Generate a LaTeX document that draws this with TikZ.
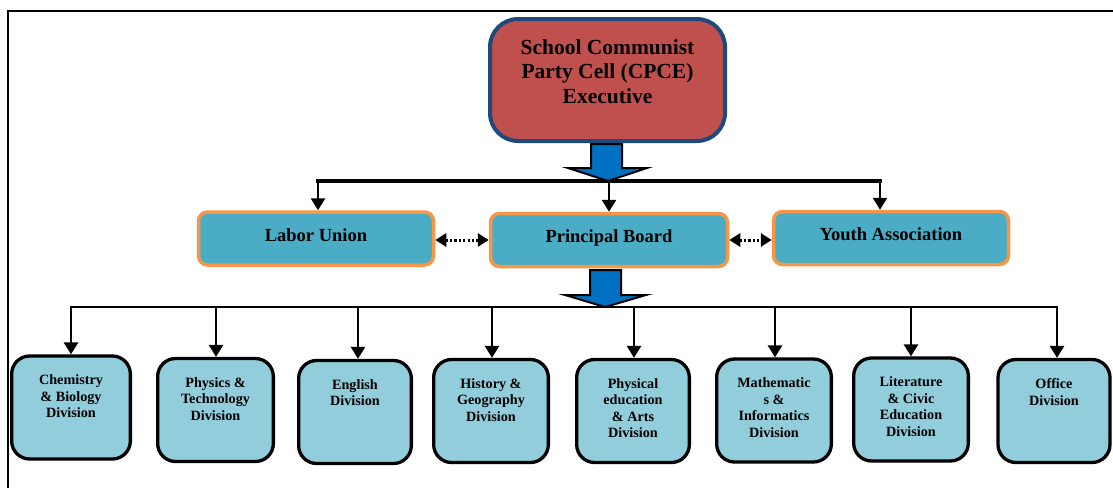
\documentclass[tikz,border=0pt]{standalone}
\usepackage{fontspec}
\setmainfont{Liberation Serif}
\usetikzlibrary{arrows.meta}
\definecolor{execred}{HTML}{C0504D}
\definecolor{execblue}{HTML}{1F497D}
\definecolor{midfill}{HTML}{4BACC6}
\definecolor{midedge}{HTML}{F79646}
\definecolor{divfill}{HTML}{92CDDC}
\definecolor{blockblue}{HTML}{0070C0}
% label of a division box: text set from the top of the box
\newcommand\divlabel[1]{\parbox[c][103pt][t]{112pt}{\centering\vspace*{19pt}#1}}
\begin{document}
\begin{tikzpicture}[x=1pt,y=-1pt,
  execbox/.style={draw=execblue, fill=execred, line width=4pt, rounded corners=28pt,
    inner sep=0pt, minimum width=235pt, minimum height=122pt},
  unitbox/.style={draw=midedge, fill=midfill, line width=3.5pt, rounded corners=9pt,
    inner sep=0pt, minimum width=235pt, minimum height=53pt,
    font=\fontsize{18.5}{22}\selectfont\bfseries, text height=12.6pt, text depth=7pt},
  divbox/.style={draw=black, fill=divfill, line width=3.3pt, rounded corners=18pt,
    inner sep=0pt, minimum height=103pt, font=\fontsize{14.2}{16.5}\selectfont\bfseries},
  link/.style={line width=2.7pt, -{Triangle[width=14pt,length=12pt]}},
  peer/.style={line width=3pt, dash pattern=on 2.2pt off 2.2pt,
    {Triangle[width=13pt,length=11pt]}-{Triangle[width=13pt,length=11pt]}},
  bus/.style={line width=3.5pt, line cap=rect},
  blockarrow/.style={draw=black, fill=blockblue, line width=2pt, line join=miter}
]
\useasboundingbox (0,0) rectangle (1113,488);

% page frame
\draw[line width=1.6pt] (1113,11) -- (8,11) -- (8,488);

% executive
\node[execbox] (exec) at (607.5,80) {\parbox[c][122pt][t]{230pt}{\centering
  \fontsize{21.5}{24.5}\selectfont\bfseries\vspace*{20.5pt}School Communist\\Party Cell (CPCE)\\Executive}};

% upper distribution bus
\coordinate (topL) at (318,181);
\coordinate (topR) at (880,181);
\draw[bus] (topL) -- (topR);
\draw[blockarrow] (591,144) -- (622,144) -- (622,168) -- (647,168) -- (608,181)
  -- (568,168) -- (591,168) -- cycle;

% middle level
\node[unitbox] (labor) at (316,238.5) {Labor Union};
\node[unitbox, minimum width=237pt] (principal) at (609,240) {Principal Board};
\node[unitbox] (youth) at (891,238) {Youth Association};

\draw[link] (topL) -- (topL |- labor.north);
\draw[link] (principal.north |- topL) -- (principal.north);
\draw[link] (topR) -- (topR |- youth.north);

\draw[peer] (labor.east |- principal.west) -- (principal.west);
\draw[peer] (principal.east) -- (principal.east -| youth.west);

% lower distribution bus
\coordinate (b1) at (71,307);
\coordinate (b2) at (216,307);
\coordinate (b3) at (358,307);
\coordinate (b4) at (492,307);
\coordinate (b5) at (634,307);
\coordinate (b6) at (775,307);
\coordinate (b7) at (911,307);
\coordinate (b8) at (1057,307);
\draw[bus, line width=2.7pt] (b1) -- (b8);
\draw[blockarrow] (590,270) -- (621,270) -- (621,295) -- (646,295) -- (605,307)
  -- (565,295) -- (590,295) -- cycle;

% divisions
\node[divbox, minimum width=118.7pt] (d1) at (71,407.5) {\divlabel{Chemistry\\\& Biology\\Division}};
\node[divbox, minimum width=115.7pt] (d2) at (215.5,410) {\divlabel{Physics \&\\Technology\\Division}};
\node[divbox, minimum width=112.7pt] (d3) at (355,412) {\divlabel{English\\Division}};
\node[divbox, minimum width=114.7pt] (d4) at (491,411) {\divlabel{History \&\\Geography\\Division}};
\node[divbox, minimum width=112.7pt] (d5) at (633,411) {\divlabel{Physical\\education\\\& Arts\\Division}};
\node[divbox, minimum width=114.7pt] (d6) at (774,410.5) {\divlabel{Mathematic\\s \&\\Informatics\\Division}};
\node[divbox, minimum width=114.7pt] (d7) at (911,409.5) {\divlabel{Literature\\\& Civic\\Education\\Division}};
\node[divbox, minimum width=108.7pt] (d8) at (1054,411) {\divlabel{Office\\Division}};

\foreach \i in {1,...,8} {
  \draw[link] (b\i) -- (b\i |- d\i.north);
}
\end{tikzpicture}
\end{document}
